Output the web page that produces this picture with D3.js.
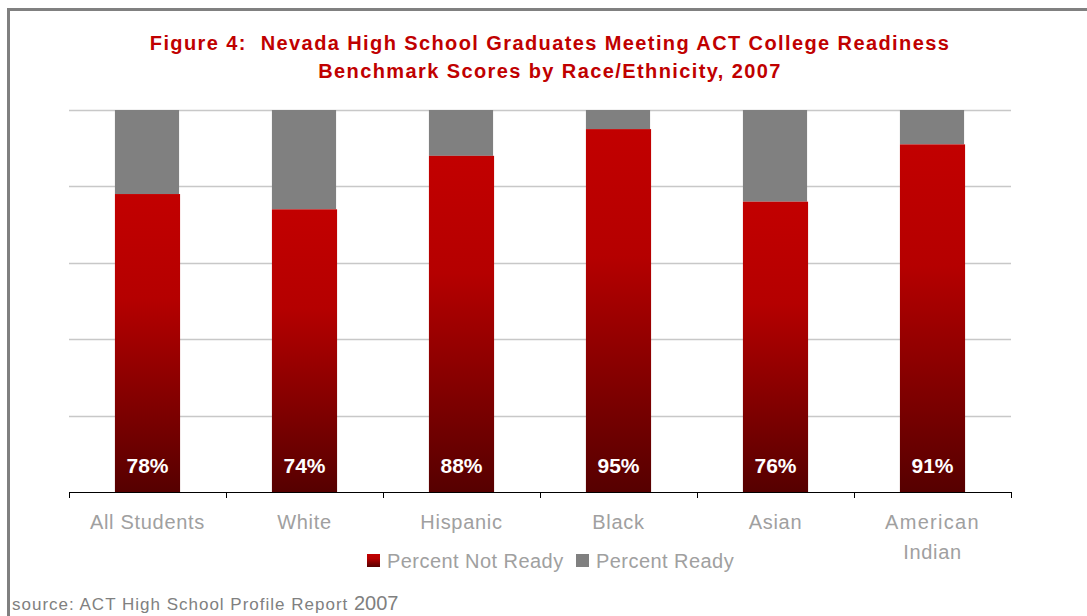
<!DOCTYPE html>
<html>
<head>
<meta charset="utf-8">
<script src="https://cdn.jsdelivr.net/npm/d3@7"></script>
<style>
  body { margin: 0; background: #fff; }
  svg { display: block; font-family: "Liberation Sans", Arial, sans-serif; }
</style>
</head>
<body>
<div id="chart"></div>
<script>
// chart data
var categories = ['All Students', 'White', 'Hispanic', 'Black', 'Asian', 'American Indian'];
var notReady = [78, 74, 88, 95, 76, 91];
var ready = [22, 26, 12, 5, 24, 9];
var seriesNames = ['Percent Not Ready', 'Percent Ready'];
var yTicks = [0, 20, 40, 60, 80, 100];

var W = 1087, H = 616;
var plot = { left: 69, right: 1011, top: 110, bottom: 492 };

var svg = d3.select('#chart').append('svg')
  .attr('width', W)
  .attr('height', H);

// bar gradient, dark at the base
var grad = svg.append('defs').append('linearGradient')
  .attr('id', 'redGrad')
  .attr('x1', 0).attr('y1', 0).attr('x2', 0).attr('y2', 1);
grad.append('stop').attr('offset', '0%').attr('stop-color', '#c20000');
grad.append('stop').attr('offset', '35%').attr('stop-color', '#b50000');
grad.append('stop').attr('offset', '100%').attr('stop-color', '#560000');

// frame
svg.append('path')
  .attr('d', 'M8.5,' + H + ' V9.5 H' + W)
  .attr('fill', 'none')
  .attr('stroke', '#808080')
  .attr('stroke-width', 3);

// title
var title = svg.append('text')
  .attr('text-anchor', 'middle')
  .attr('font-weight', 'bold')
  .attr('font-size', 20)
  .attr('letter-spacing', 1.4)
  .attr('fill', '#c00000');
title.append('tspan').attr('x', 550).attr('y', 50)
  .text('Figure 4:\u00a0 Nevada High School Graduates Meeting ACT College Readiness');
title.append('tspan').attr('x', 550).attr('y', 78)
  .text('Benchmark Scores by Race/Ethnicity, 2007');

var x = d3.scaleBand()
  .domain(categories)
  .range([plot.left, plot.right])
  .paddingInner(0.585)
  .paddingOuter(0.2925);

var xAxisScale = d3.scalePoint()
  .domain(d3.range(categories.length + 1))
  .range([plot.left, plot.right]);

var y = d3.scaleLinear()
  .domain([0, 100])
  .range([plot.bottom, plot.top]);

// gridlines
svg.append('g')
  .selectAll('line')
  .data(yTicks.slice(1))
  .join('line')
  .attr('x1', plot.left)
  .attr('x2', plot.right)
  .attr('y1', function(d){ return Math.round(y(d)) + 0.5; })
  .attr('y2', function(d){ return Math.round(y(d)) + 0.5; })
  .attr('stroke', '#c8c8c8')
  .attr('stroke-width', 1.5);

// stacked bars
var bars = svg.append('g');
categories.forEach(function(c, i){
  bars.append('rect')
    .attr('x', x(c))
    .attr('y', y(notReady[i] + ready[i]))
    .attr('width', x.bandwidth() - 1)
    .attr('height', y(notReady[i]) - y(notReady[i] + ready[i]))
    .attr('fill', '#808080');
  bars.append('rect')
    .attr('x', x(c))
    .attr('y', y(notReady[i]))
    .attr('width', x.bandwidth())
    .attr('height', y(0) - y(notReady[i]))
    .attr('fill', 'url(#redGrad)');
  bars.append('text')
    .attr('x', x(c) + x.bandwidth() / 2)
    .attr('y', plot.bottom - 19)
    .attr('text-anchor', 'middle')
    .attr('font-weight', 'bold')
    .attr('font-size', 21)
    .attr('fill', '#fff')
    .text(notReady[i] + '%');
});

// category axis
var axis = svg.append('g');
axis.append('line')
  .attr('x1', plot.left).attr('x2', plot.right)
  .attr('y1', plot.bottom + 0.5).attr('y2', plot.bottom + 0.5)
  .attr('stroke', '#000').attr('stroke-width', 1.2);
axis.selectAll('line.tick')
  .data(xAxisScale.domain())
  .join('line')
  .attr('class', 'tick')
  .attr('x1', function(d){ return Math.round(xAxisScale(d)) + 0.5; })
  .attr('x2', function(d){ return Math.round(xAxisScale(d)) + 0.5; })
  .attr('y1', plot.bottom)
  .attr('y2', plot.bottom + 6)
  .attr('stroke', '#000');

categories.forEach(function(c){
  var words = c === 'American Indian' ? ['American', 'Indian'] : [c];
  var t = axis.append('text')
    .attr('text-anchor', 'middle')
    .attr('font-size', 20)
    .attr('fill', '#a0a0a0');
  words.forEach(function(w, j){
    t.append('tspan')
      .attr('x', x(c) + x.bandwidth() / 2)
      .attr('y', 529 + j * 30)
      .attr('letter-spacing', w === 'American' ? 1.3 : 0.7)
      .text(w);
  });
});

// legend
var legend = svg.append('g');
var legendX = [367, 576];
var legendFill = ['url(#redGrad)', '#808080'];
seriesNames.forEach(function(s, i){
  legend.append('rect')
    .attr('x', legendX[i]).attr('y', 554)
    .attr('width', 13).attr('height', 13)
    .attr('fill', legendFill[i]);
  legend.append('text')
    .attr('x', legendX[i] + 20)
    .attr('y', 568)
    .attr('font-size', 20)
    .attr('letter-spacing', 0.45)
    .attr('fill', '#a0a0a0')
    .text(s);
});

// source note
var src = svg.append('text')
  .attr('x', 12)
  .attr('y', 610)
  .attr('fill', '#808080');
src.append('tspan').attr('font-size', 17).attr('letter-spacing', 1)
  .text('source: ACT High School Profile Report ');
src.append('tspan').attr('font-size', 20).text('2007');
</script>
</body>
</html>
